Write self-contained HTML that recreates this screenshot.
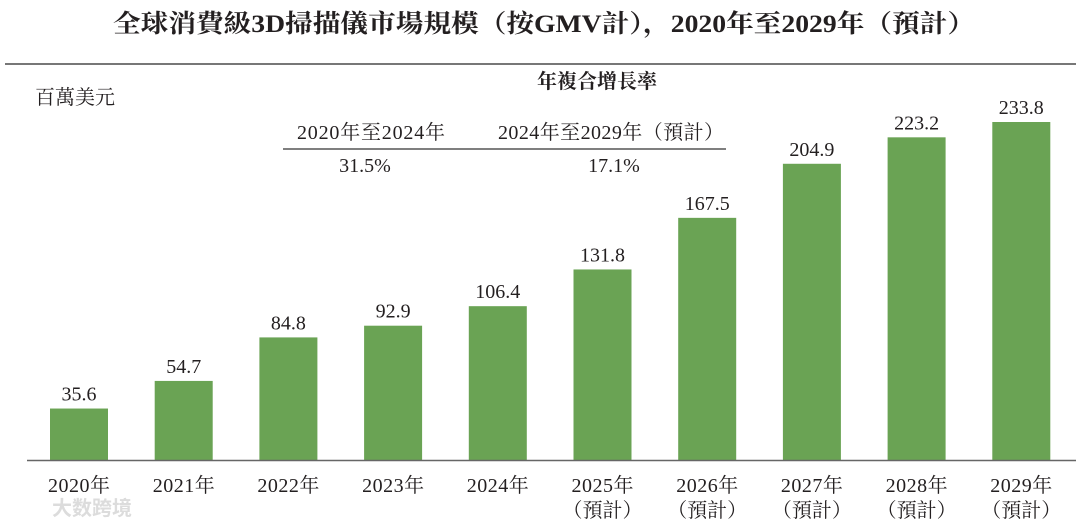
<!DOCTYPE html>
<html><head><meta charset="utf-8"><style>
body{margin:0;background:#fff;width:1080px;height:527px;overflow:hidden}
svg text{font-family:"Liberation Serif","Noto Serif CJK SC",serif;fill:#231f20}
</style></head><body>
<svg width="1080" height="527" viewBox="0 0 1080 527">
<text x="113" y="32" textLength="862" lengthAdjust="spacingAndGlyphs" font-size="25" font-weight="bold">全球消費級3D掃描儀市場規模（按GMV計），2020年至2029年（預計）</text>
<line x1="5" y1="64" x2="1076" y2="64" stroke="#777" stroke-width="2"/>
<text x="35" y="104" textLength="80" font-size="20">百萬美元</text>
<text x="597" y="88" text-anchor="middle" font-size="20" font-weight="bold">年複合增長率</text>
<text x="297" y="139" textLength="148" font-size="20">2020年至2024年</text>
<text x="498" y="139" textLength="226" font-size="20">2024年至2029年（預計）</text>
<line x1="283" y1="149" x2="726" y2="149" stroke="#333" stroke-width="1.2"/>
<text x="365" y="172" text-anchor="middle" font-size="20">31.5%</text>
<text x="614" y="172" text-anchor="middle" font-size="20">17.1%</text>
<g id="bars"></g>
<line x1="27" y1="460.5" x2="1076" y2="460.5" stroke="#666" stroke-width="1.5"/>
<text x="52" y="515" font-size="20" style="fill:#dcdcdc;font-family:'Liberation Sans','Noto Sans CJK SC',sans-serif;font-weight:bold">大数跨境</text>
</svg>
<script>
const categories=["2020年","2021年","2022年","2023年","2024年","2025年","2026年","2027年","2028年","2029年"];
const values=[35.6,54.7,84.8,92.9,106.4,131.8,167.5,204.9,223.2,233.8];
const forecast=[false,false,false,false,false,true,true,true,true,true];
const labels=["35.6","54.7","84.8","92.9","106.4","131.8","167.5","204.9","223.2","233.8"];
const base=460, scale=338/233.8, x0=79, step=104.7, bw=58;
const ns="http://www.w3.org/2000/svg", g=document.getElementById('bars');
function xS(i){return x0+i*step}
function yS(v){return base-v*scale}
categories.forEach((c,i)=>{
 const r=document.createElementNS(ns,'rect');
 r.setAttribute('x',xS(i)-bw/2);r.setAttribute('y',yS(values[i]));
 r.setAttribute('width',bw);r.setAttribute('height',base-yS(values[i]));
 r.setAttribute('fill','#6aa354');
 
 
 g.appendChild(r);
 const t=document.createElementNS(ns,'text');
 t.setAttribute('x',xS(i));t.setAttribute('y',yS(values[i])-8);
 t.setAttribute('text-anchor','middle');t.setAttribute('font-size','20');
 t.textContent=labels[i];
 
 
 g.appendChild(t);
 const x=document.createElementNS(ns,'text');
 x.setAttribute('x',xS(i)-31);x.setAttribute('y',492);
 x.setAttribute('font-size','20');x.setAttribute('textLength','62');
 x.textContent=c;
 
 
 g.appendChild(x);
 if(forecast[i]){
  const f=document.createElementNS(ns,'text');
  f.setAttribute('x',xS(i));f.setAttribute('y',517);
  f.setAttribute('text-anchor','middle');f.setAttribute('font-size','20');
  f.textContent='（預計）';
  
  
  g.appendChild(f);
 }
});
</script>
</body></html>
